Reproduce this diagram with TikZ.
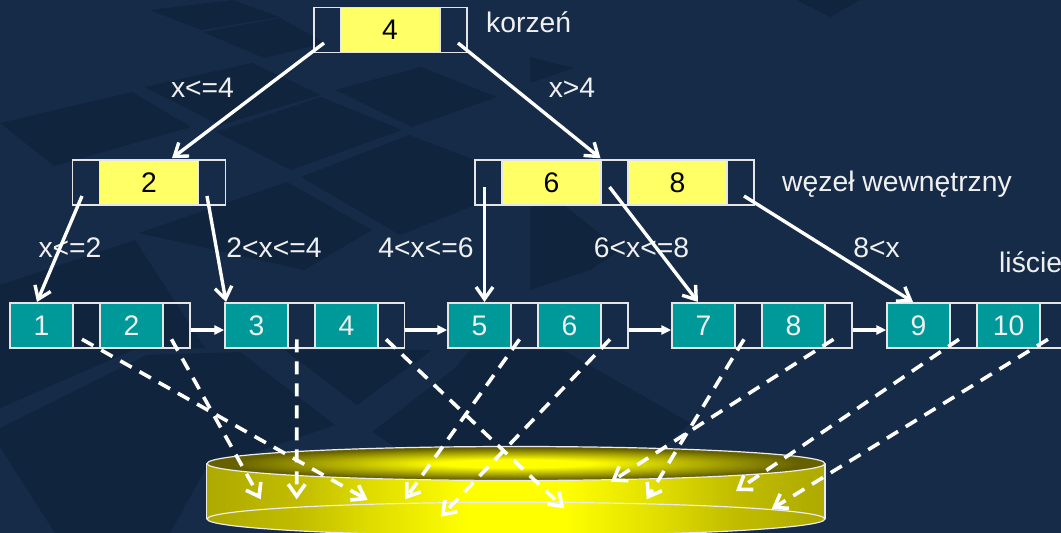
\documentclass[tikz,border=0pt]{standalone}
\usepackage{fontspec}
\setmainfont{Liberation Sans}
\usetikzlibrary{arrows.meta}
\definecolor{bgbase}{HTML}{152B48}
\definecolor{bgdark}{HTML}{11243E}
\definecolor{keyyellow}{HTML}{FFFF66}
\definecolor{keyteal}{HTML}{009999}
\definecolor{txt}{HTML}{F0F0F0}
\pgfdeclareradialshading{disctop}{\pgfpoint{0bp}{0bp}}{rgb(0bp)=(1,1,0); rgb(6bp)=(1,1,0); rgb(23bp)=(0.40,0.38,0); rgb(50bp)=(0.40,0.38,0)}
\pgfdeclarehorizontalshading{discbody}{100bp}{rgb(0bp)=(0.68,0.665,0); rgb(25bp)=(0.68,0.665,0); rgb(32.5bp)=(0.76,0.74,0); rgb(38bp)=(0.87,0.86,0); rgb(46bp)=(1,1,0); rgb(54bp)=(1,1,0); rgb(62bp)=(0.87,0.86,0); rgb(67.5bp)=(0.76,0.74,0); rgb(75bp)=(0.68,0.665,0); rgb(100bp)=(0.68,0.665,0)}
\tikzset{
  pic font/.style={font=\fontsize{28.3}{31}\selectfont},
  cell/.style={draw=white!90!black,line width=1.5pt,minimum height=45pt,inner sep=0pt,pic font},
  ptr/.style={cell,minimum width=27pt},
  ikey/.style={cell,minimum width=99pt,fill=keyyellow,text=black},
  lkey/.style={cell,minimum width=63pt,fill=keyteal,text=txt},
  lbl/.style={pic font,text=txt,inner sep=0pt},
  tree/.style={draw=white,line width=3.4pt,-{Straight Barb[length=12pt,width=17pt]}},
  link/.style={draw=white,line width=3.4pt,-{Triangle[length=10pt,width=9pt]}},
  dash link/.style={draw=white,line width=3.6pt,dash pattern=on 13pt off 9pt,-{Straight Barb[length=12pt,width=17pt]}},
  rim/.style={draw=white!92!black,line width=1.2pt},
  bgp/.style={fill=bgdark,draw=none}
}
\begin{document}
\begin{tikzpicture}[x=1pt,y=-1pt]
\useasboundingbox (0,0) rectangle (1061,533);
\clip (0,0) rectangle (1061,533);
\fill[bgbase] (0,0) rectangle (1061,533);
% background texture
\path[bgp] (150,10)--(233,0)--(280,17)--(201,30)--cycle;
\path[bgp] (203,32)--(280,18)--(325,43)--(264,58)--cycle;
\path[bgp] (145,87)--(252,63)--(321,95)--(220,125)--cycle;
\path[bgp] (335,90)--(421,67)--(497,97)--(412,127)--cycle;
\path[bgp] (216,132)--(321,97)--(402,130)--(291,170)--cycle;
\path[bgp] (301,177)--(409,135)--(475,160)--(475,205)--(400,235)--cycle;
\path[bgp] (0,123)--(132,92)--(191,127)--(54,166)--cycle;
\path[bgp] (139,233)--(287,182)--(372,230)--(304,270)--cycle;
\path[bgp] (530,57)--(574,68)--(530,83)--cycle;
\path[bgp] (530,207)--(564,205)--(620,250)--(590,270)--(530,290)--cycle;
\path[bgp] (0,285)--(135,240)--(205,348)--(133,350)--(0,408)--cycle;
\path[bgp] (0,428)--(147,355)--(240,352)--(335,425)--(205,470)--(170,533)--(55,533)--(0,447)--cycle;
\path[bgp] (285,350)--(432,350)--(357,405)--cycle;
\path[bgp] (372,432)--(455,368)--(470,350)--(563,350)--(690,423)--(660,450)--(400,450)--cycle;
\path[bgp] (797,0)--(860,0)--(830,17)--cycle;
% disc
\shade[shading=discbody] (206.7,463.5) -- (206.7,519) arc[start angle=180,end angle=360,x radius=309,y radius=-16.7] -- (825,463.5) -- cycle;
\draw[rim] (206.7,463.5) -- (206.7,519) (825,463.5) -- (825,519);
\draw[rim] (516,519) ellipse [x radius=309,y radius=16.7];
\shade[shading=disctop] (516,463.5) ellipse [x radius=309,y radius=17];
\draw[rim] (516,463.5) ellipse [x radius=309,y radius=17];
\coordinate (d1) at (367.7,500);
\coordinate (d2) at (260.7,499.3);
\coordinate (d3) at (296.7,499.3);
\coordinate (d4) at (564.3,508.3);
\coordinate (d5) at (405,499.3);
\coordinate (d6) at (440.7,516.7);
\coordinate (d7) at (646.7,499.3);
\coordinate (d8) at (611,481.7);
\coordinate (d9) at (736,491);
\coordinate (d10) at (771.7,509);
% root
\node[ptr] (rl) at (327.5,30) {};
\node[ikey] (rk) at (390,30) {4};
\node[ptr] (rr) at (453.5,30) {};
% inner nodes
\node[ptr] (al) at (86,182.5) {};
\node[ikey] (ak) at (149,182.5) {2};
\node[ptr] (ar) at (212,182.5) {};
\node[ptr] (bl) at (488.5,182.5) {};
\node[ikey] (bk) at (551.5,182.5) {6};
\node[ptr] (bm) at (614.5,182.5) {};
\node[ikey] (bn) at (677.5,182.5) {8};
\node[ptr] (br) at (740.5,182.5) {};
% leaves
\node[lkey] (k1) at (41.5,325.5) {1};
\node[ptr] (p1) at (86.5,325.5) {};
\node[lkey] (k2) at (131.5,325.5) {2};
\node[ptr] (p2) at (176.5,325.5) {};
\node[lkey] (k3) at (256.5,325.5) {3};
\node[ptr] (p3) at (301.5,325.5) {};
\node[lkey] (k4) at (346.5,325.5) {4};
\node[ptr] (p4) at (391,325.5) {};
\node[lkey] (k5) at (479.5,325.5) {5};
\node[ptr] (p5) at (524.5,325.5) {};
\node[lkey] (k6) at (569.5,325.5) {6};
\node[ptr] (p6) at (614.5,325.5) {};
\node[lkey] (k7) at (703.5,325.5) {7};
\node[ptr] (p7) at (748.5,325.5) {};
\node[lkey] (k8) at (793.5,325.5) {8};
\node[ptr] (p8) at (838.5,325.5) {};
\node[lkey] (k9) at (918.5,325.5) {9};
\node[ptr] (p9) at (963.5,325.5) {};
\node[lkey] (k10) at (1008.5,325.5) {10};
\node[ptr] (p10) at (1053.5,325.5) {};
% labels
\node[lbl,anchor=west] (tkorzen) at (486,22) {korzeń};
\node[lbl] (t1) at (202.5,88) {x<=4};
\node[lbl] (t2) at (572,88) {x>4};
\node[lbl] (t3) at (70,248) {x<=2};
\node[lbl] (t4) at (274,248) {2<x<=4};
\node[lbl] (t5) at (426,248) {4<x<=6};
\node[lbl] (t6) at (641.5,248) {6<x<=8};
\node[lbl] (t7) at (876.5,248) {8<x};
\node[lbl,anchor=west] (twezel) at (782,184) {węzeł wewnętrzny};
\node[lbl,anchor=west] (tlisc) at (999,262) {liście};
% tree pointers
\draw[tree] ([xshift=-3.5pt,yshift=-13pt]rl.center) -- ([xshift=23pt,yshift=1pt]ak.north);
\draw[tree] ([xshift=4.5pt,yshift=-13pt]rr.center) -- ([xshift=49pt,yshift=1pt]bk.north);
\draw[tree] ([xshift=-4pt,yshift=-13.5pt]al.center) -- ([xshift=-4.5pt,yshift=0.3pt]k1.north);
\draw[tree] ([xshift=-5pt,yshift=-13.5pt]ar.center) -- ([xshift=-30.5pt,yshift=0.3pt]k3.north);
\draw[tree] ([xshift=-4pt,yshift=-4.5pt]bl.center) -- ([xshift=5pt,yshift=0.3pt]k5.north);
\draw[tree] ([xshift=-5pt,yshift=-4.5pt]bm.center) -- ([xshift=-5.5pt,yshift=0.3pt]k7.north);
\draw[tree] ([xshift=3.5pt,yshift=-13.5pt]br.center) -- ([xshift=-5.5pt,yshift=0.3pt]k9.north);
% leaf chain
\draw[link] ([yshift=-4.5pt]p2.east) -- ([yshift=-4.5pt]k3.west);
\draw[link] ([yshift=-4.5pt]p4.east) -- ([yshift=-4.5pt]k5.west);
\draw[link] ([yshift=-4.5pt]p6.east) -- ([yshift=-4.5pt]k7.west);
\draw[link] ([yshift=-4.5pt]p8.east) -- ([yshift=-4.5pt]k9.west);
% data pointers
\draw[dash link] ([xshift=-4.5pt,yshift=-13.8pt]p1.center) -- (d1);
\draw[dash link] ([xshift=-5pt,yshift=-13.8pt]p2.center) -- (d2);
\draw[dash link] ([xshift=-4.7pt,yshift=-13.8pt]p3.center) -- (d3);
\draw[dash link] ([xshift=-5pt,yshift=-13.8pt]p4.center) -- (d4);
\draw[dash link] ([xshift=-5pt,yshift=-13.8pt]p5.center) -- (d5);
\draw[dash link] ([xshift=-4.5pt,yshift=-13.8pt]p6.center) -- (d6);
\draw[dash link] ([xshift=-4.5pt,yshift=-13.8pt]p7.center) -- (d7);
\draw[dash link] ([xshift=-5pt,yshift=-13.8pt]p8.center) -- (d8);
\draw[dash link] ([xshift=-4.5pt,yshift=-13.8pt]p9.center) -- (d9);
\draw[dash link] ([xshift=-5.5pt,yshift=-13.8pt]p10.center) -- (d10);
\end{tikzpicture}
\end{document}
